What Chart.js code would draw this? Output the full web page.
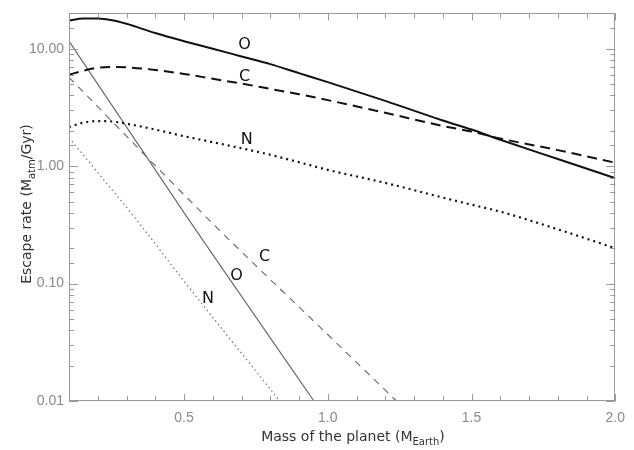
<!DOCTYPE html>
<html>
<head>
<meta charset="utf-8">
<script src="https://cdn.jsdelivr.net/npm/chart.js@4/dist/chart.umd.min.js"></script>
<style>
  html, body { margin: 0; padding: 0; background: #fff; }
  #wrap { width: 634px; height: 450px; position: relative; }
</style>
</head>
<body>
<div id="wrap"><canvas id="myChart"></canvas></div>
<script>
// planet mass (Earth masses) for the thick curves
const massThick = [0.1, 0.15, 0.2, 0.25, 0.3, 0.4, 0.5, 0.6, 0.7, 0.8, 0.9, 1.0, 1.2, 1.4, 1.5, 1.6, 1.8, 2.0];
const rateO = [17.4, 18.1, 18.1, 17.5, 16.3, 13.6, 11.6, 10.0, 8.6, 7.4, 6.2, 5.2, 3.6, 2.45, 2.05, 1.68, 1.15, 0.79];
const rateC = [6.0, 6.5, 6.9, 7.0, 6.95, 6.6, 6.1, 5.55, 5.05, 4.55, 4.1, 3.65, 2.85, 2.2, 1.97, 1.72, 1.37, 1.07];
const rateN = [2.15, 2.35, 2.42, 2.4, 2.3, 2.05, 1.8, 1.6, 1.42, 1.25, 1.08, 0.93, 0.72, 0.54, 0.47, 0.41, 0.29, 0.2];

// thin curves
const massThinO = [0.1, 0.51, 0.66, 0.952];
const rateThinO = [11.6, 0.37, 0.108, 0.01];
const massThinC = [0.1, 0.62, 0.98, 1.239];
const rateThinC = [5.7, 0.29, 0.041, 0.01];
const massThinN = [0.1, 0.352, 0.491, 0.833];
const rateThinN = [1.75, 0.309, 0.112, 0.01];

const xTickLabels = ['0.5', '1.0', '1.5', '2.0'];
const yTickLabels = ['0.01', '0.10', '1.00', '10.00'];

// curve labels: text, mass, rate
const curveLabels = [
  ['O', 0.711, 10.9],
  ['C', 0.711, 5.8],
  ['N', 0.718, 1.66],
  ['C', 0.78, 0.17],
  ['O', 0.683, 0.116],
  ['N', 0.583, 0.074]
];

function pts(xs, ys) {
  return xs.map((x, i) => ({x: x, y: ys[i]}));
}

const data = {
  datasets: [
    {label: 'O', data: pts(massThick, rateO), borderColor: '#111', borderWidth: 2},
    {label: 'C', data: pts(massThick, rateC), borderColor: '#111', borderWidth: 2, borderDash: [10, 6]},
    {label: 'N', data: pts(massThick, rateN), borderColor: '#111', borderWidth: 2.2, borderDash: [2, 4]},
    {label: 'O thin', data: pts(massThinO, rateThinO), borderColor: '#666', borderWidth: 1.1},
    {label: 'C thin', data: pts(massThinC, rateThinC), borderColor: '#666', borderWidth: 1.1, borderDash: [7, 6]},
    {label: 'N thin', data: pts(massThinN, rateThinN), borderColor: '#666', borderWidth: 1.1, borderDash: [1.5, 3]}
  ]
};

function richText(ctx, parts, cx, cy) {
  const big = '14px "DejaVu Sans"', small = '10px "DejaVu Sans"';
  let w = 0;
  parts.forEach(p => { ctx.font = p[1] ? small : big; w += ctx.measureText(p[0]).width; });
  let x = cx - w / 2;
  parts.forEach(p => {
    ctx.font = p[1] ? small : big;
    ctx.fillText(p[0], x, cy + (p[1] ? 4 : 0));
    x += ctx.measureText(p[0]).width;
  });
}

const decor = {
  id: 'decor',
  afterDraw(chart) {
    const ctx = chart.ctx;
    const ca = chart.chartArea;
    const xs = chart.scales.x, ys = chart.scales.y;
    ctx.save();
    ctx.strokeStyle = '#999';
    ctx.lineWidth = 1;
    ctx.strokeRect(Math.round(ca.left) + 0.5, Math.round(ca.top) + 0.5,
      Math.round(ca.width) - 1, Math.round(ca.height) - 1);
    ctx.beginPath();
    xs.ticks.forEach(t => {
      const px = Math.round(xs.getPixelForValue(t.value)) + 0.5;
      const len = xTickLabels.includes(t.value.toFixed(1)) ? 7 : 5;
      ctx.moveTo(px, ca.bottom); ctx.lineTo(px, ca.bottom - len);
      ctx.moveTo(px, ca.top); ctx.lineTo(px, ca.top + len);
    });
    ys.ticks.forEach(t => {
      const py = Math.round(ys.getPixelForValue(t.value)) + 0.5;
      const lg = Math.log10(t.value);
      const len = Math.abs(lg - Math.round(lg)) < 1e-6 ? 9 : 5;
      ctx.moveTo(ca.left, py); ctx.lineTo(ca.left + len, py);
      ctx.moveTo(ca.right, py); ctx.lineTo(ca.right - len, py);
    });
    ctx.stroke();

    // curve labels
    ctx.fillStyle = '#111';
    ctx.font = '16px "DejaVu Sans"';
    ctx.textAlign = 'center';
    ctx.textBaseline = 'middle';
    curveLabels.forEach(l => {
      ctx.fillText(l[0], xs.getPixelForValue(l[1]), ys.getPixelForValue(l[2]));
    });

    // axis titles
    ctx.textAlign = 'left';
    ctx.textBaseline = 'alphabetic';
    ctx.fillStyle = '#333';
    richText(ctx, [['Mass of the planet (M', false], ['Earth', true], [')', false]], 353, 441);
    ctx.translate(31, 204);
    ctx.rotate(-Math.PI / 2);
    richText(ctx, [['Escape rate (M', false], ['atm', true], ['/Gyr)', false]], 0, 0);
    ctx.restore();
  }
};

const config = {
  type: 'line',
  data: data,
  options: {
    responsive: true,
    maintainAspectRatio: false,
    animation: false,
    layout: {padding: {top: 12, right: 18, left: 0, bottom: 0}},
    elements: {
      point: {radius: 0},
      line: {tension: 0, cubicInterpolationMode: 'monotone', fill: false}
    },
    plugins: {legend: {display: false}, tooltip: {enabled: false}},
    scales: {
      x: {
        type: 'linear',
        min: 0.1,
        max: 2.0,
        grid: {display: false, drawTicks: false},
        border: {display: false},
        ticks: {
          stepSize: 0.1,
          autoSkip: false,
          maxRotation: 0,
          maxTicksLimit: 100,
          padding: 9,
          color: '#8a8a8a',
          font: {family: '"Liberation Sans"', size: 14},
          callback: function(v) {
            const s = Number(v).toFixed(1);
            return xTickLabels.includes(s) ? s : '';
          }
        },
        afterFit: function(scale) { scale.height = 49; }
      },
      y: {
        type: 'logarithmic',
        min: 0.01,
        max: 20,
        grid: {display: false, drawTicks: false},
        border: {display: false},
        ticks: {
          autoSkip: false,
          padding: 5,
          color: '#8a8a8a',
          font: {family: '"Liberation Sans"', size: 14},
          callback: function(v) {
            const lg = Math.log10(v);
            if (Math.abs(lg - Math.round(lg)) > 1e-6) return '';
            const s = Number(v).toFixed(2);
            return yTickLabels.includes(s) ? s : '';
          }
        },
        afterFit: function(scale) { scale.width = 69; }
      }
    }
  },
  plugins: [decor]
};

const myChart = new Chart(document.getElementById('myChart'), config);
</script>
</body>
</html>
